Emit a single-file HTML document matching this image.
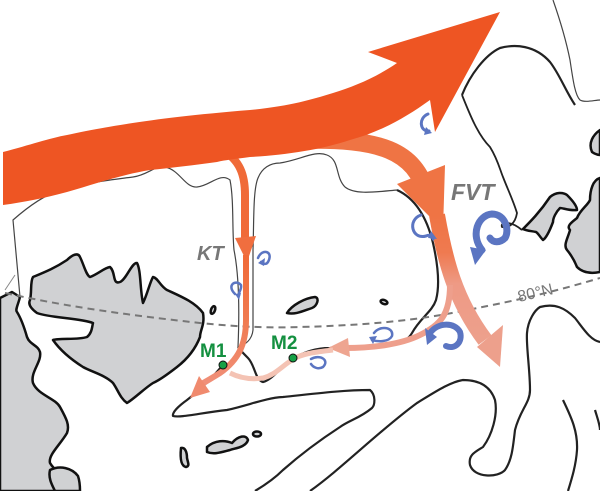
<!DOCTYPE html>
<html><head><meta charset="utf-8"><style>
html,body{margin:0;padding:0;background:#fff;}
svg{display:block;}
text{font-family:"Liberation Sans",Arial,sans-serif;font-weight:bold;}
</style></head><body>
<svg width="600" height="491" viewBox="0 0 600 491" xmlns="http://www.w3.org/2000/svg">
<defs>
<linearGradient id="fg" x1="0" y1="0" x2="0" y2="1">
<stop offset="0" stop-color="#ef7444"/><stop offset="0.3" stop-color="#ef7a50"/><stop offset="0.55" stop-color="#ee9a85"/><stop offset="1" stop-color="#eda08c"/>
</linearGradient>
<linearGradient id="kg" x1="0" y1="0" x2="0" y2="1">
<stop offset="0" stop-color="#f06a38"/><stop offset="0.5" stop-color="#f07a50"/><stop offset="1" stop-color="#f0907a"/>
</linearGradient>
</defs>
<g fill="none" stroke="#222" stroke-linejoin="round">
<path d="M20,297 L13,220 C30,205 45,195 60,190 C90,182 110,180 133,177 C148,175 155,165 165,167 C180,170 185,188 197,187 C210,186 220,172 230,180 C234,200 232,230 234,250 C238,270 240,300 238,347" stroke="#444" stroke-width="1.2"/>
<path d="M238,347 C245,345 252,340 253,330 L253,250 C254,220 253,190 258,178 C262,168 270,163 280,163 C300,160 315,150 327,155 C340,160 335,177 345,187 C355,195 375,192 397,190" stroke="#444" stroke-width="1.2"/>
<path d="M553,0 C560,20 566,40 570,60 C573,80 575,95 580,100 C585,103 595,100 600,100" stroke="#444" stroke-width="1.2"/>
<path d="M522,230 L540,230" stroke="#888" stroke-width="1"/>
<path d="M5,290 L15,275" stroke="#888" stroke-width="1"/>
<path d="M397,190 C410,196 425,210 433,243 C438,265 440,285 436,300 C432,312 420,318 412,333 C405,345 390,347 370,347 L330,348 C315,348 305,352 293,358 C280,368 272,380 263,382 C255,380 255,365 248,358 C244,354 240,350 238,347" stroke-width="2.2"/>
<path d="M223,365 C212,378 200,390 187,400 C180,405 172,412 173,416 C180,418 200,413 227,410 C250,405 265,398 283,397 C320,393 345,390 370,390 C376,395 375,405 372,408 C360,418 350,420 340,427 C320,440 300,455 283,470 C275,478 265,485 255,491" stroke-width="2.2"/>
<path d="M310,491 C340,470 380,430 417,403 C435,392 450,382 463,380 C478,380 490,385 495,400 C498,415 492,435 483,447 C475,452 468,455 470,465 C474,478 498,478 505,470 C512,460 513,447 515,430 C520,410 530,403 530,390 C530,370 526,345 527,333 C528,320 535,310 540,307 C555,303 565,308 575,318 C583,328 590,340 600,342" stroke-width="2.2"/>
<path d="M563,400 C570,415 578,430 577,450 C576,465 572,478 568,491" stroke-width="2.2"/>
<path d="M595,410 C598,420 600,425 600,430" stroke-width="2.2"/>
<path d="M462,95 C470,75 485,55 500,48 C515,44 535,45 550,62 C560,75 565,90 575,105" stroke-width="2.2"/>
<path d="M462,95 C470,115 478,135 490,147 C498,160 500,170 503,177 C508,190 513,200 517,213 C515,225 508,228 502,227 C500,222 510,220 522,230" stroke-width="1.8"/>
</g>
<g fill="#d0d1d3" stroke="#111" stroke-width="2.5" stroke-linejoin="round">
<path d="M0,491 L0,298 L12,292 L20,297 C18,305 15,310 17,312 C22,320 25,330 27,337 C30,345 38,345 40,352 C42,362 30,372 33,383 C38,395 55,398 60,407 C66,418 70,425 67,433 C60,445 48,455 50,463 C55,472 70,480 73,491 Z"/>
<path d="M50,470 C60,465 72,468 78,476 C80,482 80,488 80,491 L55,491 C52,485 48,478 50,470 Z"/>
<path d="M33,277 C45,272 55,268 67,260 C72,255 78,252 80,257 C84,265 86,275 90,277 C98,274 104,268 110,267 C116,272 112,285 120,282 C126,280 132,262 137,263 C141,270 140,290 143,303 C147,295 150,282 153,277 C158,278 160,286 167,290 C180,296 195,302 203,313 C205,325 200,330 200,337 C195,350 186,360 177,367 C168,374 160,380 153,383 C145,388 135,398 127,403 C120,398 118,390 113,383 C105,375 92,372 83,367 C72,360 60,350 53,340 C60,338 78,340 87,337 C92,333 92,327 93,323 C80,318 50,318 37,313 C30,308 28,304 30,300 C32,292 30,282 33,277 Z"/>
<path d="M207,447 C215,440 225,440 232,443 C238,436 246,434 248,440 C246,447 236,448 230,450 C222,452 214,455 207,452 Z"/>
<path d="M181,448 C185,447 187,452 187,458 C188,463 190,466 186,467 C181,466 180,458 181,448 Z"/>
<ellipse cx="257" cy="434" rx="4" ry="2.5"/>
<path d="M287,313 C292,305 305,298 315,297 C320,298 317,306 312,308 C303,311 295,315 287,313 Z"/>
<ellipse cx="213" cy="310" rx="2" ry="4" transform="rotate(20 213 310)"/>
<ellipse cx="384" cy="302" rx="3.5" ry="2" transform="rotate(20 384 302)"/>
<path d="M523,229 C530,222 540,212 550,197 C556,192 563,192 567,195 C572,200 577,206 577,210 C570,211 563,208 560,208 C556,212 553,218 553,222 C550,230 546,238 543,240 C540,237 538,233 536,232 C532,231 527,231 523,229 Z"/>
<path d="M600,178 C593,180 590,190 590,200 C588,205 580,210 577,218 C572,222 566,226 570,230 C568,238 563,245 567,250 C572,256 575,262 577,267 C582,272 590,274 600,272 Z"/>
<path d="M600,130 C593,135 588,143 592,152 C596,155 600,155 600,155 Z"/>
</g>
<path d="M5,293 C60,305 110,313 200,323 C240,327 270,328 300,327 C380,325 430,318 467,310 C520,300 560,290 600,278" fill="none" stroke="#777" stroke-width="2" stroke-dasharray="7,5"/>
<text x="0" y="0" font-size="16" fill="#777" transform="translate(519,302) rotate(-13)" style="font-weight:normal">80°N</text>
<!-- branches under main arrow -->
<path d="M300,140 C380,138 415,150 427,195" fill="none" stroke="#ef7444" stroke-width="18"/>
<polygon points="397,184 445,165 443,230" fill="#ef7444"/>
<path d="M437,215 C445,260 455,300 485,340" fill="none" stroke="url(#fg)" stroke-width="16"/>
<polygon points="477,347 503,325 500,367" fill="#eda08c"/>
<path d="M450,285 C450,315 440,325 420,335 C400,345 370,348 345,348" fill="none" stroke="#ee9f8c" stroke-width="6"/>
<polygon points="328,348 348,338 350,357" fill="#eea590"/>
<path d="M333,350 C315,352 300,354 292,360 C282,366 275,375 263,378 C250,380 240,378 230,373" fill="none" stroke="#f4c3b4" stroke-width="5"/>
<path d="M222,150 C240,160 245,175 245,195 L245,245" fill="none" stroke="#f06a38" stroke-width="8"/>
<!-- main Atlantic arrow -->
<path d="M3,152 C30,145 50,138 67,135 C100,128 150,118 250,110 C290,106 310,100 333,93 C355,86 375,78 397,63 L368,52 L500,12 L435,132 L430,100 C405,118 380,132 350,140 C320,150 285,155 250,157 C235,159 225,160 217,162 C195,165 170,168 150,170 C120,175 95,184 67,192 C45,198 25,202 3,205 Z" fill="#ee5523"/>
<polygon points="235,238 256,236 247,262" fill="#f06e3f"/>
<path d="M246,255 L246,320 C246,345 238,360 220,373 C212,378 205,382 200,385" fill="none" stroke="url(#kg)" stroke-width="6"/>
<polygon points="190,398 199,376 210,392" fill="#f08a6e"/>
<circle cx="223" cy="365" r="4" fill="#16a045" stroke="#111" stroke-width="1"/>
<circle cx="293" cy="358" r="4" fill="#16a045" stroke="#111" stroke-width="1"/>
<text x="200" y="357" font-size="19" fill="#149040">M1</text>
<text x="271" y="349" font-size="19" fill="#149040">M2</text>
<text x="197" y="260" font-size="20" fill="#777" font-style="italic">KT</text>
<text x="451" y="200" font-size="23" fill="#777" font-style="italic">FVT</text>
<g fill="none" stroke="#5b75c2" stroke-linecap="round">
<path d="M482,250 C470,235 478,215 492,214 C505,214 510,230 505,238 C500,243 493,243 490,238" stroke-width="7"/>
<path d="M430,333 C438,322 455,322 460,332 C463,342 455,350 446,346" stroke-width="6"/>
<path d="M428,114 C418,118 420,132 429,131" stroke-width="3"/>
<path d="M421,215 C407,220 412,240 426,236 C430,234 432,236 433,239" stroke-width="3"/>
<path d="M258,258 C262,248 274,251 268,262 C266,265 263,264 261,262" stroke-width="2.5"/>
<path d="M235,294 C226,285 236,279 241,285 C242,290 238,292 239,295" stroke-width="2.5"/>
<path d="M374,333 C380,325 394,327 392,336 C389,342 378,342 372,340" stroke-width="2.5"/>
<path d="M311,359 C320,354 330,360 323,367 C318,370 313,367 311,364" stroke-width="2.5"/>
</g>
<g fill="#5b75c2">
<polygon points="470,247 486,250 475,265"/>
<polygon points="425,328 437,337 427,345"/>
<polygon points="426,127 432,133 424,135"/>
<polygon points="431,231 437,239 428,238"/>
<polygon points="258,263 265,258 264,266"/>
<polygon points="235,294 241,293 239,300"/>
<polygon points="369,337 377,336 373,344"/>
</g>
</svg>
</body></html>
